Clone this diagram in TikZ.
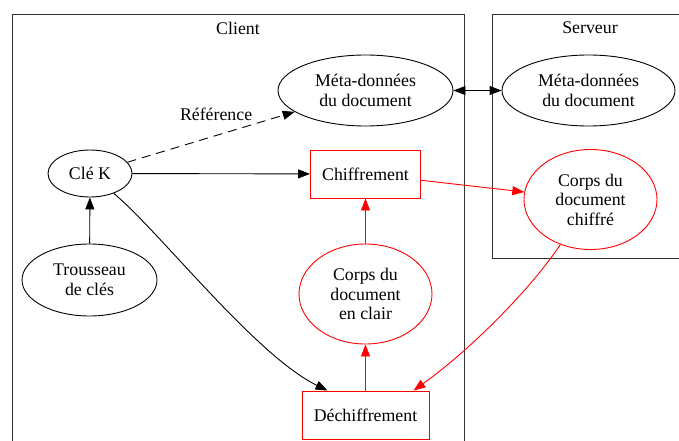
\documentclass[tikz,border=0pt]{standalone}
\usepackage{fontspec}
\setmainfont{Liberation Serif}
\usetikzlibrary{arrows.meta,shapes.geometric}
\begin{document}
\begin{tikzpicture}[x=1pt,y=-1pt,
  every node/.style={font=\fontsize{17.8}{19.5}\selectfont, align=center, inner sep=0pt},
  oval/.style={draw, ellipse, line width=0.9pt},
  boite/.style={draw, rectangle, line width=0.9pt},
  cluster/.style={draw, line width=0.9pt, black!80},
  rouge/.style={draw=red, red},
  fleche/.style={line width=0.9pt, -{Triangle[length=12pt,width=9pt]}},
  double fleche/.style={line width=0.9pt, {Triangle[length=12pt,width=9pt]}-{Triangle[length=12pt,width=9pt]}}]
\useasboundingbox (0,0) rectangle (679,441);
\clip (0,0) rectangle (679,441);

% clusters
\draw[cluster] (12,14) rectangle (464,470);
\draw[cluster] (492,14) rectangle (690,258);
\node (lclient) at (238,28) {Client};
\node (lserveur) at (590,28) {Serveur};

% nodes
\node[oval, minimum width=175pt, minimum height=71pt] (mc) at (365.5,90.5) {Méta-données\\du document};
\node[oval, minimum width=173pt, minimum height=71pt] (ms) at (588.5,90.5) {Méta-données\\du document};
\node[oval, minimum width=84pt, minimum height=47pt] (ck) at (90,173.5) {Clé K};
\node[oval, minimum width=135pt, minimum height=72pt] (tr) at (89.5,280) {Trousseau\\de clés};
\node[boite, rouge, text=black, minimum width=110pt, minimum height=48pt] (chi) at (365.5,174) {Chiffrement};
\node[oval, rouge, text=black, minimum width=133pt, minimum height=100pt] (cc) at (590.5,199.5) {Corps du\\document\\chiffré};
\node[oval, rouge, text=black, minimum width=133pt, minimum height=100pt] (cl) at (365.5,294) {Corps du\\document\\en clair};
\node[boite, rouge, text=black, minimum width=127pt, minimum height=48pt] (dec) at (365.5,415) {Déchiffrement};

% connectors
\draw[fleche] (tr) -- (ck);
\draw[fleche] (ck) -- (chi);
\draw[fleche, dashed, dash pattern=on 9pt off 6pt] (ck) -- node[pos=0.53, yshift=21.5pt] (lref) {Référence} (mc);
\draw[double fleche] (mc) -- (ms);
\draw[fleche, red] (chi) -- (cc);
\draw[fleche, red] (cl) -- (chi);
\draw[fleche, red] (dec) -- (cl);
\draw[fleche] (ck) .. controls (160,232) and (255,355) .. ([xshift=-38pt]dec.north);
\draw[fleche, red] (cc) .. controls (530,290) and (470,350) .. ([xshift=48pt]dec.north);
\end{tikzpicture}
\end{document}
